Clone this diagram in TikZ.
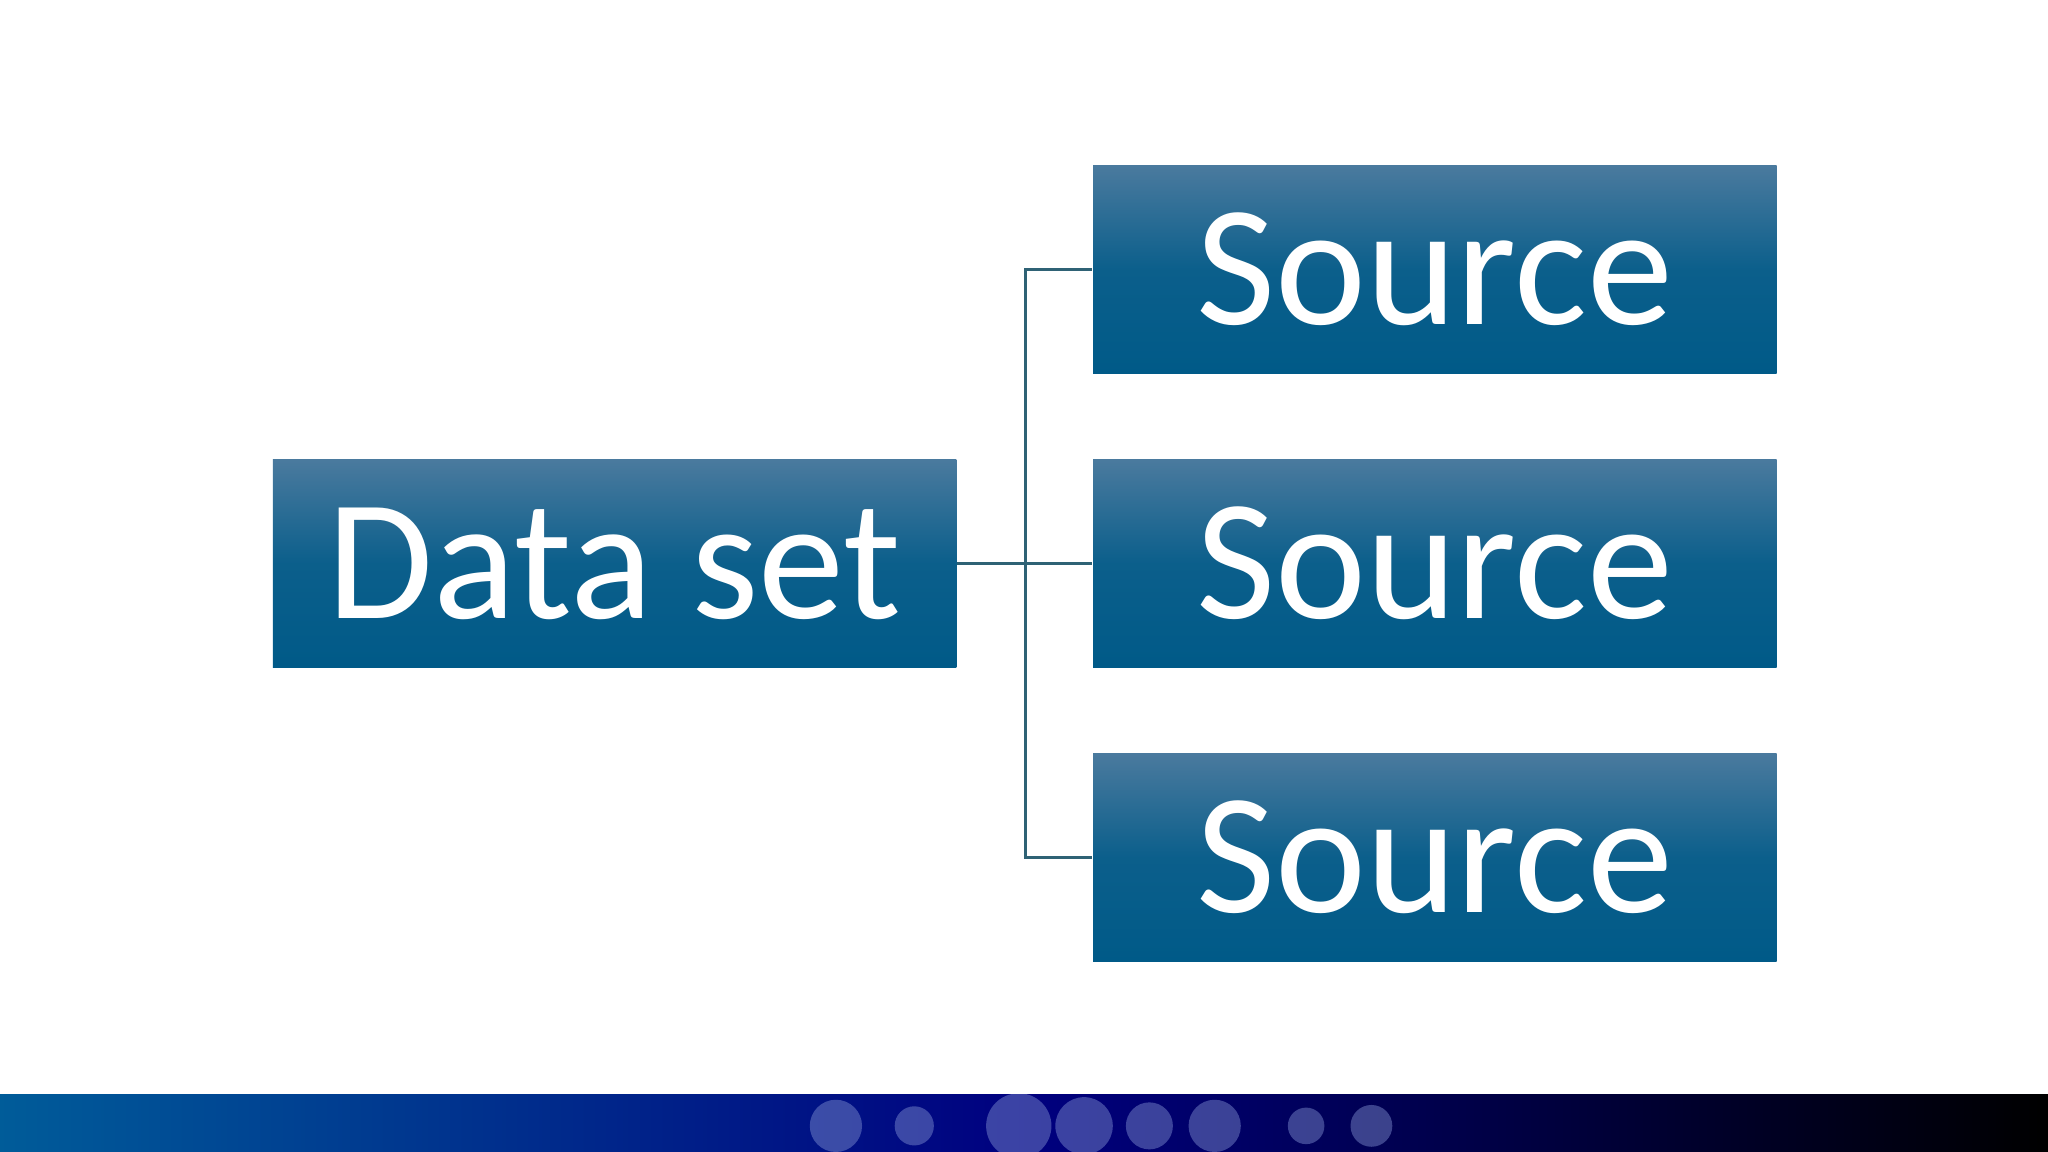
\documentclass[tikz,border=0pt]{standalone}
\usepackage{fontspec}
\setmainfont{Carlito}
\definecolor{btop}{HTML}{4A7A9E}
\definecolor{bbot}{HTML}{005A88}
\definecolor{conn}{HTML}{2F6275}
\begin{document}
\begin{tikzpicture}[x=0.01cm,y=-0.01cm,
 box/.style={draw=none,minimum width=5.23cm,minimum height=1.59cm,inner sep=0pt,
   top color=btop,bottom color=bbot,middle color=bbot!85!btop,shading angle=0,
   text=white,font=\fontsize{37.5}{40}\selectfont},
 link/.style={draw=conn,line width=0.7pt}]
\useasboundingbox (0,0) rectangle (1568,882);
\fill[white] (0,0) rectangle (1568,882);
% banner
\begin{scope}
\clip (0,838) rectangle (1568,882);
\shade[left color=blue!40!cyan!60!black, right color=black, middle color=blue!50!black] (0,838) rectangle (1568,882);
\foreach \x/\r in {640/20,700/15,780/25,830/22,880/18,930/20,1000/14,1050/16}{
  \fill[cyan!30!blue!50!white,opacity=0.45] (\x,862) circle[radius=\r];}
\end{scope}
\node[box] (d) at (470.5,431.5) {Data set};
\node[box] (s1) at (1098.5,206.5) {Source};
\node[box] (s2) at (1098.5,431.5) {Source};
\node[box] (s3) at (1098.5,656.5) {Source};
\coordinate (j) at (785,431.5);
\draw[link] (d.east) -- (s2.west);
\draw[link] (s1.west) -| (j) |- (s3.west);
\end{tikzpicture}
\end{document}
